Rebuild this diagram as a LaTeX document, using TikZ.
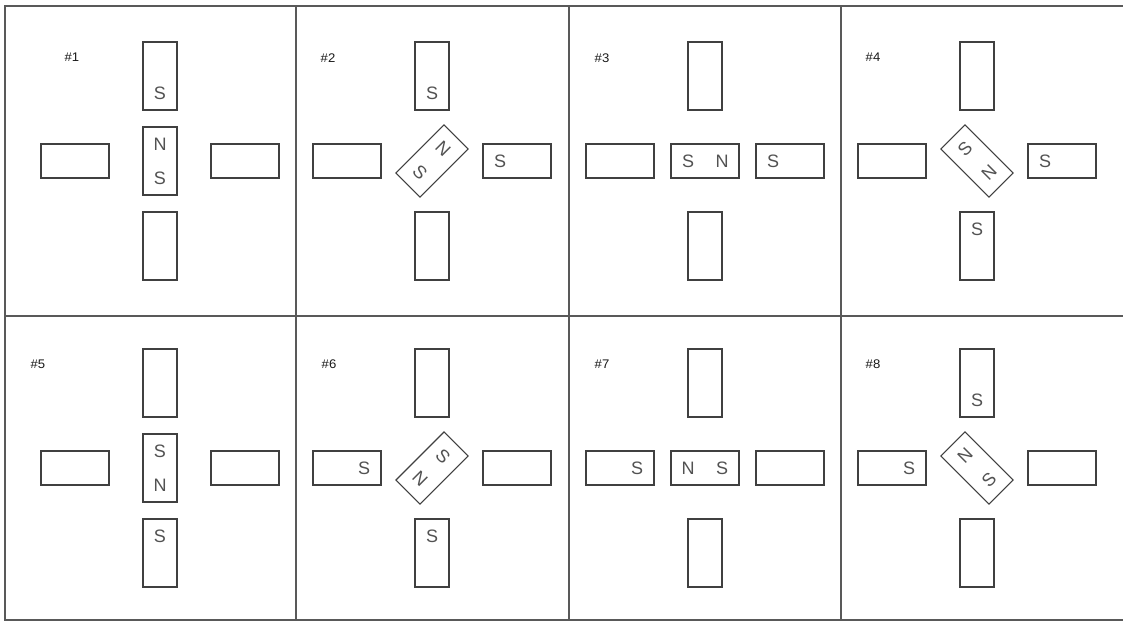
\documentclass[tikz,border=0pt]{standalone}
\usepackage{fontspec}
\setmainfont{Liberation Sans}
\usetikzlibrary{calc}
\newcommand\magarms[3]{%
  \node[vmag] (#1t) at (#2,#3-85) {};
  \node[vmag] (#1b) at (#2,#3+85) {};
  \node[hmag] (#1l) at (#2-85,#3) {};
  \node[hmag] (#1r) at (#2+85,#3) {};
}
\begin{document}
\begin{tikzpicture}[x=1pt,y=-1pt,
  frame/.style={draw=black!65, line width=1.3pt},
  hmag/.style={draw=black!75, line width=1.1pt, minimum width=68pt, minimum height=34pt, inner sep=0pt, outer sep=0pt, fill=white},
  vmag/.style={hmag, minimum width=34pt, minimum height=68pt},
  pole/.style={font=\fontsize{18}{18}\selectfont, text=black!68, inner sep=0pt},
  lbl/.style={font=\fontsize{12.5}{12.5}\selectfont, text=black!90, inner sep=0pt, xscale=1.05}]
\useasboundingbox (0,0) rectangle (1123,622);
% grid
\draw[frame] (1123,6) -- (5,6) -- (5,620) -- (1123,620);
\draw[frame] (5,316) -- (1123,316);
\draw[frame] (296,6) -- (296,620);
\draw[frame] (569,6) -- (569,620);
\draw[frame] (841,6) -- (841,620);
% labels
\node[lbl] (l1) at (72,57) {\#1};
\node[lbl] (l2) at (328,58) {\#2};
\node[lbl] (l3) at (602,58) {\#3};
\node[lbl] (l4) at (873,57) {\#4};
\node[lbl] (l5) at (38,364) {\#5};
\node[lbl] (l6) at (329,364) {\#6};
\node[lbl] (l7) at (602,364) {\#7};
\node[lbl] (l8) at (873,364) {\#8};
% arm magnets
\magarms{pa}{160}{161}
\magarms{pb}{432}{161}
\magarms{pc}{705}{161}
\magarms{pd}{977}{161}
\magarms{pe}{160}{468}
\magarms{pf}{432}{468}
\magarms{pg}{705}{468}
\magarms{ph}{977}{468}
% centre magnets
\node[vmag] (pac) at (160,161) {};
\node[pole] at ($(pac)+(0,-17)$) {N};
\node[pole] at ($(pac)+(0,17)$) {S};
\node[hmag, rotate=45] (pbc) at (432,161) {};
\node[pole, rotate=-45] at ($(pbc)+(11,-12)$) {N};
\node[pole, rotate=-45] at ($(pbc)+(-12,11)$) {S};
\node[hmag] (pcc) at (705,161) {};
\node[pole] at ($(pcc)+(-17,0)$) {S};
\node[pole] at ($(pcc)+(17,0)$) {N};
\node[hmag, rotate=-45] (pdc) at (977,161) {};
\node[pole, rotate=45] at ($(pdc)+(-12,-12)$) {S};
\node[pole, rotate=45] at ($(pdc)+(12,12)$) {N};
\node[vmag] (pec) at (160,468) {};
\node[pole] at ($(pec)+(0,-17)$) {S};
\node[pole] at ($(pec)+(0,17)$) {N};
\node[hmag, rotate=45] (pfc) at (432,468) {};
\node[pole, rotate=-45] at ($(pfc)+(11,-12)$) {S};
\node[pole, rotate=-45] at ($(pfc)+(-12,11)$) {N};
\node[hmag] (pgc) at (705,468) {};
\node[pole] at ($(pgc)+(-17,0)$) {N};
\node[pole] at ($(pgc)+(17,0)$) {S};
\node[hmag, rotate=-45] (phc) at (977,468) {};
\node[pole, rotate=45] at ($(phc)+(-12,-12)$) {N};
\node[pole, rotate=45] at ($(phc)+(12,12)$) {S};
% poles on arm magnets
\node[pole] at ($(pat)+(0,17)$) {S};
\node[pole] at ($(pbt)+(0,17)$) {S};
\node[pole] at ($(pbr)+(-17,0)$) {S};
\node[pole] at ($(pcr)+(-17,0)$) {S};
\node[pole] at ($(pdr)+(-17,0)$) {S};
\node[pole] at ($(pdb)+(0,-17)$) {S};
\node[pole] at ($(peb)+(0,-17)$) {S};
\node[pole] at ($(pfl)+(17,0)$) {S};
\node[pole] at ($(pfb)+(0,-17)$) {S};
\node[pole] at ($(pgl)+(17,0)$) {S};
\node[pole] at ($(phl)+(17,0)$) {S};
\node[pole] at ($(pht)+(0,17)$) {S};
\end{tikzpicture}
\end{document}
